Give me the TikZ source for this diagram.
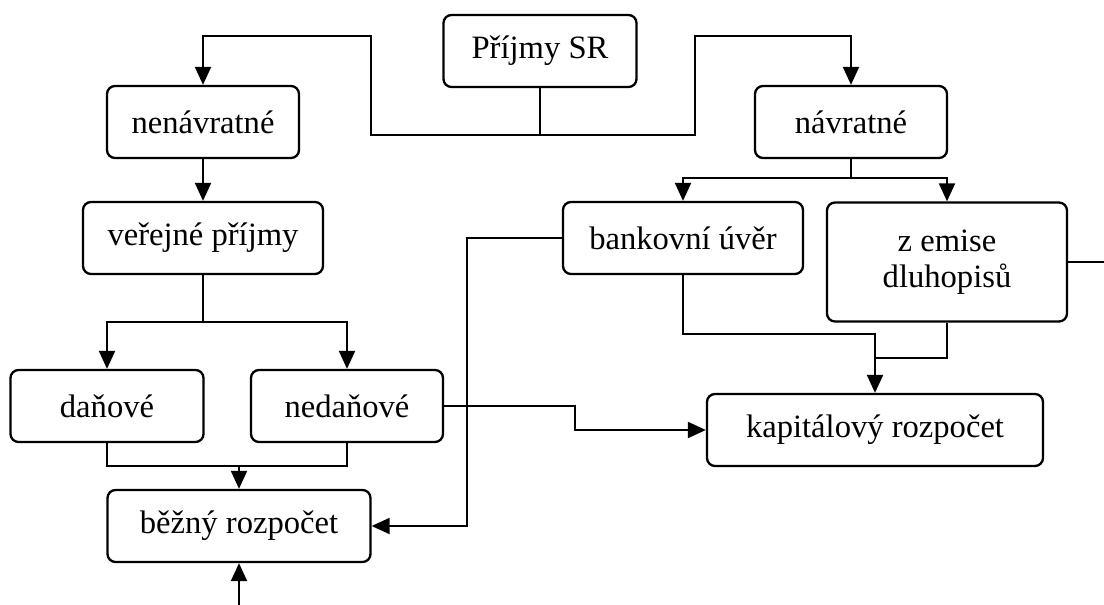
\documentclass[tikz,border=0pt]{standalone}
\usepackage{fontspec}
\setmainfont{Liberation Serif}
\usetikzlibrary{arrows.meta}

\begin{document}
\begin{tikzpicture}[x=0.5pt,y=-0.5pt,>={Triangle[length=9pt,width=8pt]},
  box/.style={draw,rounded corners=4pt,line width=1.15pt,minimum height=36pt,
    inner sep=2pt,align=center,font=\fontsize{16.3}{18}\selectfont},
  conn/.style={line width=1pt}]
\path[use as bounding box] (0,0) rectangle (1104,605);

% bloky (souradnice v px obrazku)
\node[box,minimum width=96.5pt] (prijmy) at (540,51) {Příjmy SR};
\node[box,minimum width=96pt] (nenavr) at (203,122) {nenávratné};
\node[box,minimum width=96pt] (navr) at (851,122) {návratné};
\node[box,minimum width=120pt] (verejne) at (203,238) {veřejné příjmy};
\node[box,minimum width=120pt] (bank) at (683,238) {bankovní úvěr};
\node[box,minimum width=120pt,minimum height=59.5pt] (emise) at (947,262) {z emise\\dluhopisů};
\node[box,minimum width=96.5pt] (danove) at (107,406) {daňové};
\node[box,minimum width=96pt] (nedanove) at (347,406) {nedaňové};
\node[box,minimum width=168pt] (kapital) at (875,430) {kapitálový rozpočet};
\node[box,minimum width=131.5pt] (bezny) at (239,526) {běžný rozpočet};

\coordinate (split) at (540,135);
\coordinate (vsplit) at (203,322);
\coordinate (nsplit) at (851,178);
\coordinate (bjoin) at (239,466);
\coordinate (off) at (1104,262);
\coordinate (in) at (239,605);

% spoje
\draw[conn] (prijmy.south) -- (split);
\draw[conn,->] (split) -| (371,36) -| (nenavr.north);
\draw[conn,->] (split) -| (695,36) -| (navr.north);
\draw[conn,->] (nenavr) -- (verejne);
\draw[conn] (verejne) -- (vsplit);
\draw[conn,->] (vsplit) -| (danove);
\draw[conn,->] (vsplit) -| (nedanove);
\draw[conn] (navr) -- (nsplit);
\draw[conn,->] (nsplit) -| (bank);
\draw[conn,->] (nsplit) -| (emise);
\draw[conn] (danove.south) |- (bjoin) -| (nedanove.south);
\draw[conn,->] (bjoin) -- (bezny);
\draw[conn,->] (nedanove.east) -| (575,430) -- (kapital.west);
\draw[conn,->] (bank.west) -| (467,526) -- (bezny.east);
\draw[conn,->] (bank.south) |- (875,334) -- (kapital.north);
\draw[conn] (emise.south) |- (875,358);
\draw[conn] (emise.east) -- (off);
\draw[conn,->] (in) -- (bezny.south);
\end{tikzpicture}
\end{document}
